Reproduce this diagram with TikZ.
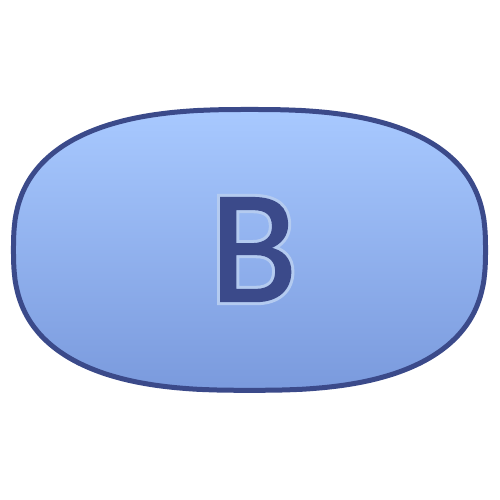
\documentclass[tikz,border=0pt]{standalone}
\usepackage{fontspec}
\setmainfont{Carlito}
\newfontfamily\glowfont[FakeBold=5]{Carlito}
\newfontfamily\darkfont[FakeBold=1.2]{Carlito}
\definecolor{edgeblue}{HTML}{3B4A8A}
\definecolor{topblue}{HTML}{A8C9FF}
\definecolor{botblue}{HTML}{7A9ADD}
\definecolor{glowblue}{HTML}{B4CBF0}
\tikzset{
  pillshape/.style={top color=topblue, bottom color=botblue, draw=edgeblue, line width=5pt},
  letter/.style={inner sep=0pt, anchor=base, font=\fontsize{161}{161}\selectfont}
}
\begin{document}
\begin{tikzpicture}[x=1pt,y=1pt]
\useasboundingbox (0,0) rectangle (500,500);
\shade[pillshape] plot[domain=0.5:359.5, samples=360, smooth]
  ({249.5+236*sign(cos(\x))*pow(abs(cos(\x)),0.769)},
   {250.1+140.4*sign(sin(\x))*pow(abs(sin(\x)),0.769)}) -- cycle;
\node[letter] (b) at (253.5,198.8) {\rlap{\color{glowblue}\glowfont B}{\color{edgeblue}\darkfont B}};
\end{tikzpicture}
\end{document}
